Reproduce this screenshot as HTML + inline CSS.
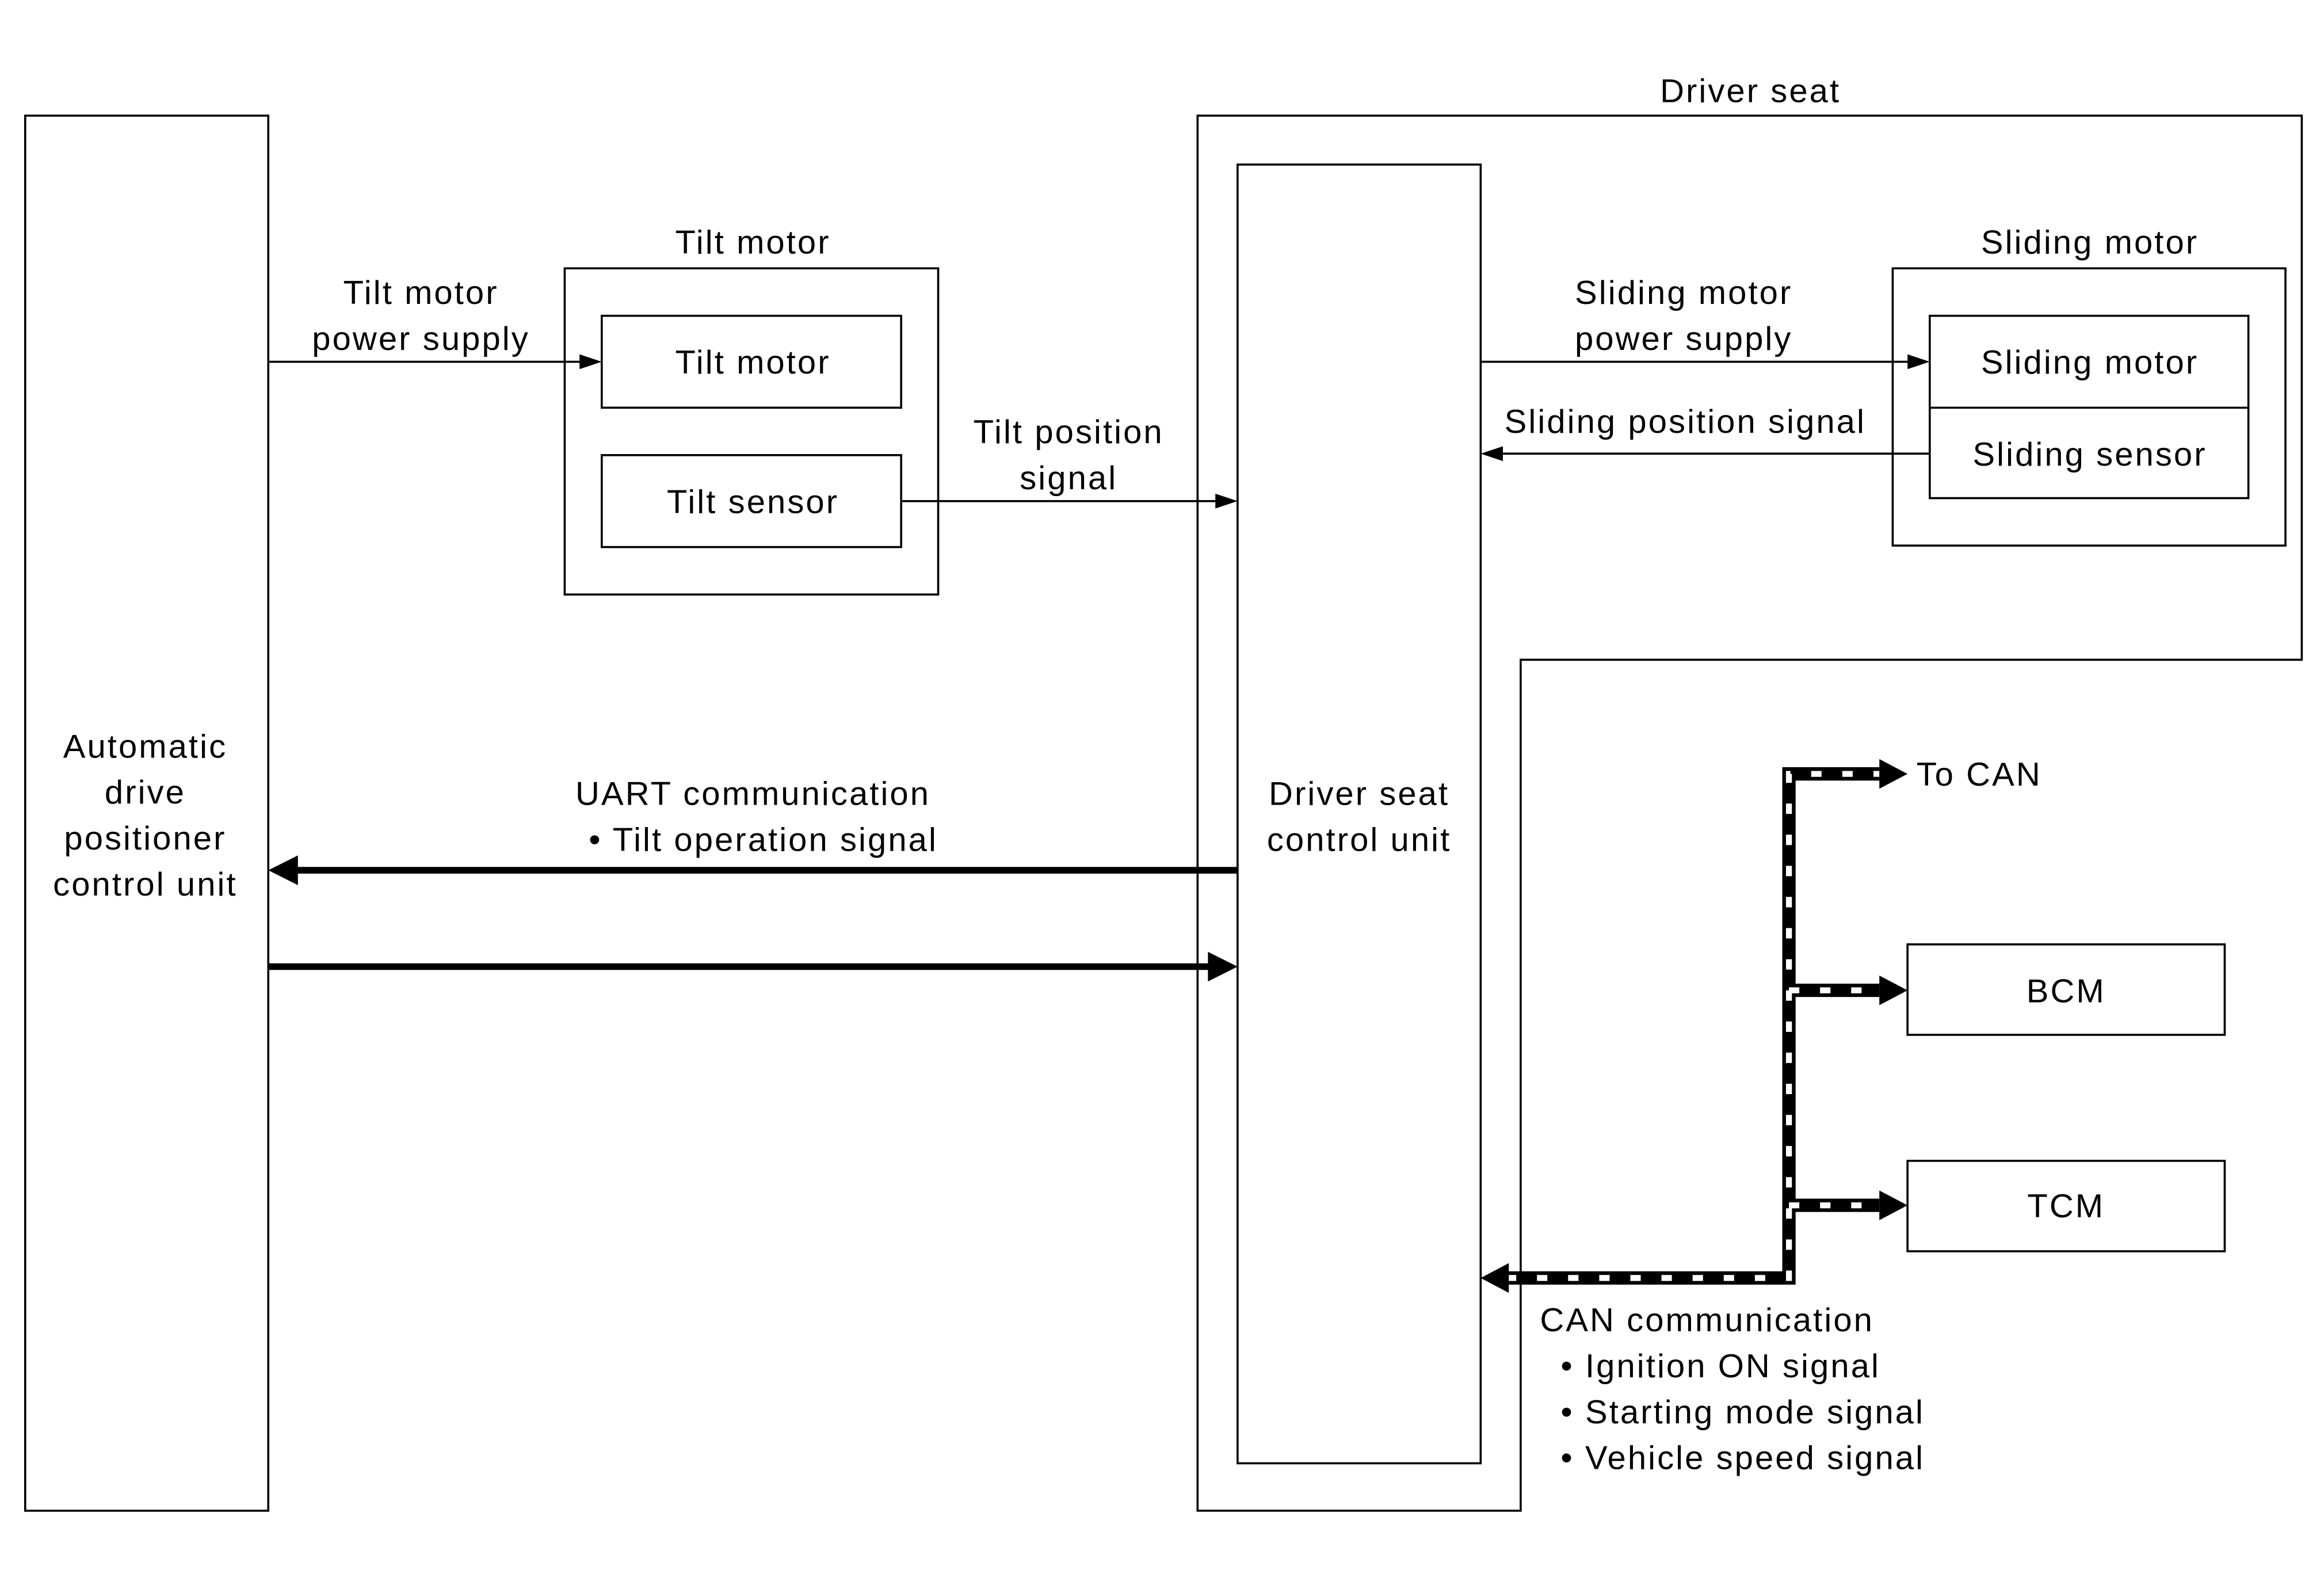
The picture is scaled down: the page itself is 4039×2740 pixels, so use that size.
<!DOCTYPE html>
<html><head><meta charset="utf-8"><style>
html,body{margin:0;padding:0;background:#fff}
svg{display:block}
text{font-family:"Liberation Sans",sans-serif;font-size:22.5px;fill:#000;letter-spacing:1.2px}
</style></head><body>
<svg width="4039" height="2740" viewBox="0 0 1568 1063.7" preserveAspectRatio="none" xmlns="http://www.w3.org/2000/svg">
<rect width="1568" height="1064" fill="#fff"/>
<g fill="none" stroke="#000" stroke-width="1.4">
<rect x="17" y="78" width="164" height="941"/>
<polygon points="808,78 1553,78 1553,445 1026,445 1026,1019 808,1019"/>
<rect x="835" y="111" width="164" height="876"/>
<rect x="381" y="181" width="252" height="220"/>
<rect x="406" y="213" width="202" height="62"/>
<rect x="406" y="307" width="202" height="62"/>
<rect x="1277" y="181" width="265" height="187"/>
<rect x="1302" y="213" width="215" height="123"/>
<line x1="1302" y1="275" x2="1517" y2="275"/>
<rect x="1287" y="637" width="214" height="61"/>
<rect x="1287" y="783" width="214" height="61"/>
<line x1="181" y1="244" x2="394" y2="244"/>
<line x1="608" y1="338" x2="822" y2="338"/>
<line x1="999" y1="244" x2="1290" y2="244"/>
<line x1="1012" y1="306" x2="1302" y2="306"/>
</g>
<g fill="#000">
<polygon points="406,244 391,239 391,249"/>
<polygon points="835,338 820,333 820,343"/>
<polygon points="1302,244 1287,239 1287,249"/>
<polygon points="999,306 1014,301 1014,311"/>
</g>
<g stroke="#000" stroke-width="4.5" fill="none">
<line x1="835" y1="587" x2="198" y2="587"/>
<line x1="181" y1="652" x2="818" y2="652"/>
</g>
<g fill="#000">
<polygon points="181,587 201,577 201,597"/>
<polygon points="835,652 815,642 815,662"/>
</g>
<g fill="none" stroke-linejoin="miter">
<path d="M1016,862 H1207 V522 H1268 M1207,668 H1268 M1207,813 H1268" stroke="#000" stroke-width="9"/>
<path d="M1016,862 H1207 V522 H1268 M1207,668 H1268 M1207,813 H1268" stroke="#fff" stroke-width="4" stroke-dasharray="7,14"/>
</g>
<g fill="#000">
<polygon points="1287,522 1268,512 1268,532"/>
<polygon points="1287,668 1268,658 1268,678"/>
<polygon points="1287,813 1268,803 1268,823"/>
<polygon points="999,862 1018,852 1018,872"/>
</g>
<g text-anchor="middle">
<text x="1181" y="69">Driver seat</text>
<text x="508" y="171">Tilt motor</text>
<text x="508" y="252">Tilt motor</text>
<text x="508" y="346">Tilt sensor</text>
<text x="284" y="205">Tilt motor</text>
<text x="284" y="236">power supply</text>
<text x="721" y="299">Tilt position</text>
<text x="721" y="330">signal</text>
<text x="1410" y="171">Sliding motor</text>
<text x="1410" y="252">Sliding motor</text>
<text x="1410" y="314">Sliding sensor</text>
<text x="1136" y="205">Sliding motor</text>
<text x="1136" y="236">power supply</text>
<text x="1137" y="292">Sliding position signal</text>
<text x="508" y="543">UART communication</text>
<text x="515" y="574">• Tilt operation signal</text>
<text x="98" y="511">Automatic</text>
<text x="98" y="542">drive</text>
<text x="98" y="573">positioner</text>
<text x="98" y="604">control unit</text>
<text x="917" y="543">Driver seat</text>
<text x="917" y="574">control unit</text>
<text x="1394" y="676">BCM</text>
<text x="1394" y="821">TCM</text>
</g>
<text x="1293" y="530">To CAN</text>
<text x="1039" y="898">CAN communication</text>
<text x="1053" y="929">• Ignition ON signal</text>
<text x="1053" y="960">• Starting mode signal</text>
<text x="1053" y="991">• Vehicle speed signal</text>
</svg>
</body></html>
